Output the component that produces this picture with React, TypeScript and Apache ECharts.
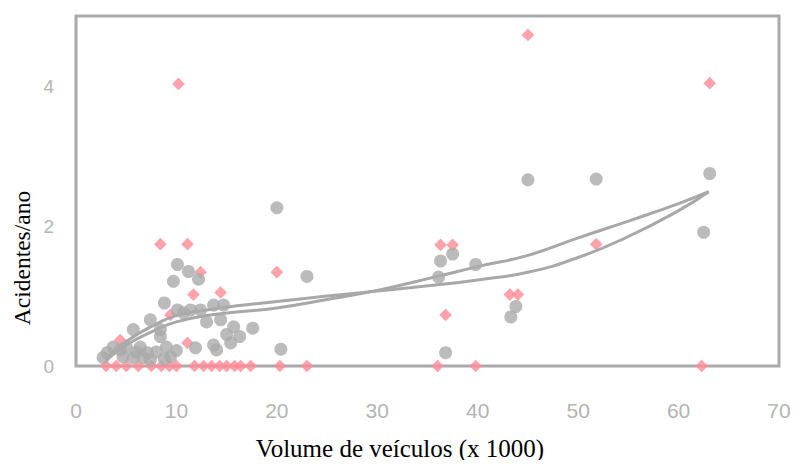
import React, { useEffect, useRef } from "react";
import * as echarts from "echarts";

const xTicks = [0, 10, 20, 30, 40, 50, 60, 70];
const yTicks = [0, 2, 4];

const observedPoints: [number, number][] = [
  [2.7, 0.12], [3.1, 0.19], [3.7, 0.27], [4.4, 0.23], [4.7, 0.13], [5.0, 0.27],
  [5.7, 0.12], [5.7, 0.52], [6.0, 0.2], [6.4, 0.27], [6.7, 0.12], [7.1, 0.19], [7.4, 0.09],
  [7.4, 0.66], [8.0, 0.2], [8.4, 0.42], [8.4, 0.52], [8.8, 0.9], [8.8, 0.1], [9.0, 0.27], [9.4, 0.13],
  [9.7, 1.21], [10.0, 0.22], [10.1, 1.45], [10.1, 0.8], [10.7, 0.76], [11.2, 1.35], [11.4, 0.8],
  [11.9, 0.26], [12.2, 1.24], [12.4, 0.8], [13.0, 0.63], [13.7, 0.87], [13.7, 0.3],
  [14.0, 0.23], [14.4, 0.66], [14.7, 0.87], [15.0, 0.45], [15.4, 0.33], [15.7, 0.56],
  [16.3, 0.42], [17.6, 0.54],
  [20.0, 2.26], [20.4, 0.24], [23.0, 1.28], [36.1, 1.27], [36.3, 1.5], [36.8, 0.19],
  [37.5, 1.6], [39.8, 1.45], [43.3, 0.7], [43.8, 0.85], [45.0, 2.66], [51.8, 2.67],
  [62.5, 1.91], [63.1, 2.75],
];

const predictedPoints: [number, number][] = [
  [4.4, 0.37], [8.4, 1.74], [9.4, 0.73], [10.2, 4.03], [11.1, 1.74], [11.1, 0.33],
  [11.7, 1.02], [12.4, 1.34], [14.4, 1.05], [20.0, 1.34], [36.3, 1.73], [36.8, 0.73],
  [37.5, 1.73], [43.2, 1.02], [44.0, 1.02], [45.0, 4.73], [51.8, 1.74], [63.1, 4.04],
  [3.0, 0], [4.0, 0], [5.0, 0], [6.2, 0], [7.5, 0], [8.5, 0], [9.3, 0], [10.0, 0],
  [11.8, 0], [12.7, 0], [13.5, 0], [14.3, 0], [15.0, 0], [15.8, 0], [16.4, 0],
  [17.4, 0], [20.3, 0], [23.0, 0], [36.0, 0], [39.8, 0], [62.3, 0],
];

const curveX = [3, 5, 8, 10, 13, 16, 20, 25, 30, 36, 40, 45, 50, 55, 60, 63];
const curveA = [0.1, 0.35, 0.6, 0.72, 0.8, 0.86, 0.92, 1.0, 1.07, 1.16, 1.23, 1.34, 1.55, 1.85, 2.22, 2.49];
const curveB = [0.08, 0.3, 0.52, 0.63, 0.72, 0.77, 0.83, 0.95, 1.08, 1.28, 1.42, 1.58, 1.83, 2.07, 2.32, 2.49];

const yTitle = "Acidentes/ano";
const xTitle = "Volume de veículos (x 1000)";

export default function App() {
  const ref = useRef<HTMLDivElement>(null);
  useEffect(() => {
    if (!ref.current) return;
    const chart = echarts.init(ref.current, null, { renderer: "svg" });
    const tickFont = "'Liberation Sans', Arial, sans-serif";
    const serif = "'Liberation Serif', 'Times New Roman', serif";
    chart.setOption({
      animation: false,
      backgroundColor: "#ffffff",
      grid: {
        left: 76,
        right: 21,
        top: 16,
        bottom: 102,
        show: true,
        borderColor: "#aaaaaa",
        borderWidth: 3,
        containLabel: false,
      },
      xAxis: {
        type: "value",
        min: xTicks[0],
        max: xTicks[xTicks.length - 1],
        interval: 10,
        axisLine: { show: false },
        axisTick: { show: false },
        splitLine: { show: false },
        axisLabel: {
          color: "#b4b4b4",
          fontSize: 21,
          fontFamily: tickFont,
          margin: 34,
        },
      },
      yAxis: {
        type: "value",
        min: yTicks[0],
        max: 5,
        interval: 2,
        axisLine: { show: false },
        axisTick: { show: false },
        splitLine: { show: false },
        axisLabel: {
          color: "#b4b4b4",
          fontSize: 19,
          fontFamily: tickFont,
          margin: 22,
          showMaxLabel: false,
          formatter: (v: number) => (yTicks.includes(v) ? String(v) : ""),
        },
      },
      graphic: [
        {
          type: "text",
          x: 22,
          y: 258,
          rotation: Math.PI / 2,
          style: {
            text: yTitle,
            font: `23.5px ${serif}`,
            fill: "#000000",
            align: "center",
            verticalAlign: "middle",
          },
        },
        {
          type: "text",
          x: 400,
          y: 448,
          style: {
            text: xTitle,
            font: `25px ${serif}`,
            fill: "#000000",
            align: "center",
            verticalAlign: "middle",
          },
        },
      ],
      series: [
        {
          type: "scatter",
          data: predictedPoints,
          symbol: "rect",
          symbolRotate: 45,
          symbolSize: 9,
          itemStyle: { color: "#ff8b96" },
          z: 2,
        },
        {
          type: "line",
          data: curveX.map((x, i) => [x, curveA[i]]),
          smooth: true,
          symbol: "none",
          lineStyle: { color: "#a8a8a8", width: 3 },
          z: 3,
        },
        {
          type: "line",
          data: curveX.map((x, i) => [x, curveB[i]]),
          smooth: true,
          symbol: "none",
          lineStyle: { color: "#a8a8a8", width: 3 },
          z: 3,
        },
        {
          type: "scatter",
          data: observedPoints,
          symbol: "circle",
          symbolSize: 13,
          itemStyle: { color: "#aaaaaa" },
          z: 4,
        },
      ],
    });
    return () => chart.dispose();
  }, []);
  return <div ref={ref} style={{ width: 800, height: 468, margin: -8 }} />;
}
